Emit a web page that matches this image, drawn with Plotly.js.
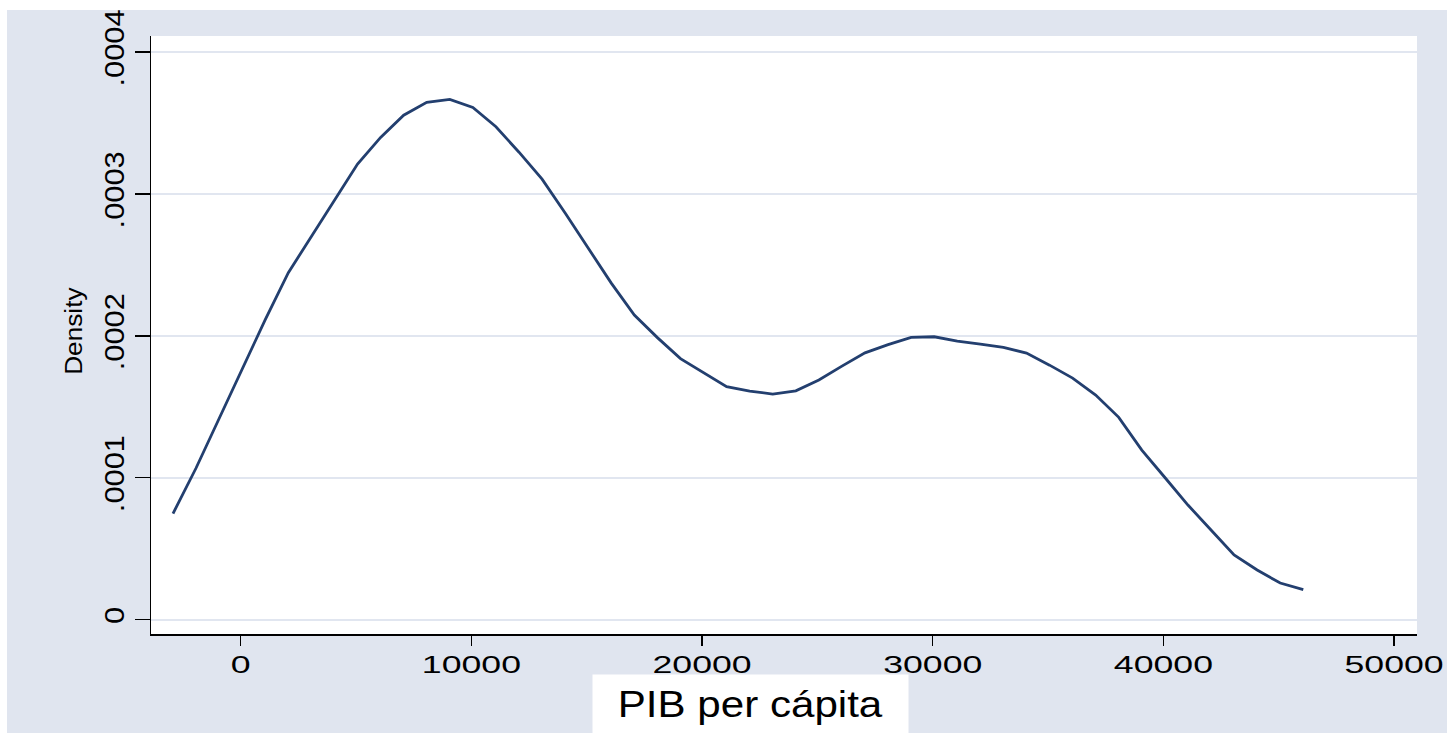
<!DOCTYPE html>
<html>
<head>
<meta charset="utf-8">
<script src="https://cdn.plot.ly/plotly-3.0.1.min.js"></script>
<style>
  html, body { margin: 0; padding: 0; background: #ffffff; width: 1447px; height: 737px; overflow: hidden; }
  #chart { position: absolute; left: 7px; top: 10px; width: 1440px; height: 723px; }
</style>
</head>
<body>
<div id="chart"></div>
<script>
// Kernel density estimate of GDP per capita
const pibGrid = [-2935, -1935, -935, 65, 1065, 2065, 3065, 4065, 5065, 6065,
                 7065, 8065, 9065, 10065, 11065, 12065, 13065, 14065, 15065, 16065,
                 17065, 18065, 19065, 20065, 21065, 22065, 23065, 24065, 25065, 26065,
                 27065, 28065, 29065, 30065, 31065, 32065, 33065, 34065, 35065, 36065,
                 37065, 38065, 39065, 40065, 41065, 42065, 43065, 44065, 45065, 46065];
const density = [0.0000747, 0.0001068, 0.0001417, 0.0001767, 0.0002114, 0.0002445, 0.0002703, 0.0002956, 0.0003210, 0.0003398,
                 0.0003555, 0.0003645, 0.0003666, 0.0003609, 0.0003473, 0.0003294, 0.0003104, 0.0002865, 0.0002616, 0.0002371,
                 0.0002146, 0.0001987, 0.0001839, 0.0001741, 0.0001641, 0.0001610, 0.0001589, 0.0001612, 0.0001688, 0.0001786,
                 0.0001880, 0.0001938, 0.0001989, 0.0001993, 0.0001963, 0.0001941, 0.0001918, 0.0001878, 0.0001793, 0.0001702,
                 0.0001582, 0.0001425, 0.0001194, 0.0001001, 0.0000807, 0.0000631, 0.0000455, 0.0000349, 0.0000257, 0.0000211];

const xTickVals = [0, 10000, 20000, 30000, 40000, 50000];
const xTickText = ["0", "10000", "20000", "30000", "40000", "50000"];
const yTickVals = [0, 0.0001, 0.0002, 0.0003, 0.0004];
const yTickText = ["0", ".0001", ".0002", ".0003", ".0004"];

const xTitle = "PIB per cápita";
const yTitle = "Density";

const FONT = "Liberation Sans, Arial, Helvetica, sans-serif";

const trace = {
  type: "scatter",
  mode: "lines",
  x: pibGrid,
  y: density,
  line: { color: "#233F6F", width: 2.8 },
  hoverinfo: "skip",
  showlegend: false
};

const layout = {
  width: 1440,
  height: 723,
  margin: { l: 144, r: 30, t: 26, b: 99, pad: 0 },
  paper_bgcolor: "#E0E5EF",
  plot_bgcolor: "#FFFFFF",
  font: { family: FONT, color: "#000000" },
  showlegend: false,
  xaxis: {
    range: [-3889, 50995],
    tickmode: "array",
    tickvals: xTickVals,
    ticktext: xTickText,
    ticks: "outside",
    ticklen: 10,
    tickwidth: 1.5,
    tickcolor: "#000000",
    tickfont: { family: FONT, size: 23, color: "#000000" },
    showgrid: false,
    zeroline: false,
    showline: true,
    linecolor: "#000000",
    linewidth: 1.5,
    automargin: false,
    fixedrange: true
  },
  yaxis: {
    range: [-0.0000102, 0.0004113],
    tickmode: "array",
    tickvals: yTickVals,
    ticktext: yTickText,
    ticks: "outside",
    ticklen: 15,
    tickwidth: 1.5,
    tickcolor: "#000000",
    tickangle: -90,
    tickfont: { family: FONT, size: 27, color: "#000000" },
    showgrid: true,
    gridcolor: "#E1E6F0",
    gridwidth: 2,
    zeroline: false,
    showline: true,
    linecolor: "#000000",
    linewidth: 1.5,
    automargin: false,
    fixedrange: true
  },
  annotations: [
    {
      text: xTitle,
      xref: "paper", yref: "paper",
      x: 0.4735, y: -0.1171,
      xanchor: "center", yanchor: "middle",
      showarrow: false,
      bgcolor: "#FFFFFF",
      width: 315, height: 58,
      borderpad: 0,
      font: { family: FONT, size: 36, color: "#000000" }
    },
    {
      text: yTitle,
      xref: "paper", yref: "paper",
      x: -0.0608, y: 0.5059,
      xanchor: "center", yanchor: "middle",
      textangle: -90,
      showarrow: false,
      font: { family: FONT, size: 23, color: "#000000" }
    }
  ]
};

function stretchEl(t, f) {
  const L = t.getComputedTextLength();
  if (L > 0) {
    t.setAttribute("textLength", (L * f).toFixed(2));
    t.setAttribute("lengthAdjust", "spacingAndGlyphs");
  }
}
function stretch(sel, f) {
  document.querySelectorAll(sel).forEach(function (t) { stretchEl(t, f); });
}

Plotly.newPlot("chart", [trace], layout, { displayModeBar: false, staticPlot: true }).then(function () {
  stretch("#chart .xtick text", 1.55);
  stretch("#chart .ytick text", 1.14);
  const ann = document.querySelectorAll("#chart .annotation-text");
  if (ann[0]) stretchEl(ann[0], 1.17);
  if (ann[1]) stretchEl(ann[1], 1.14);
});
</script>
</body>
</html>
